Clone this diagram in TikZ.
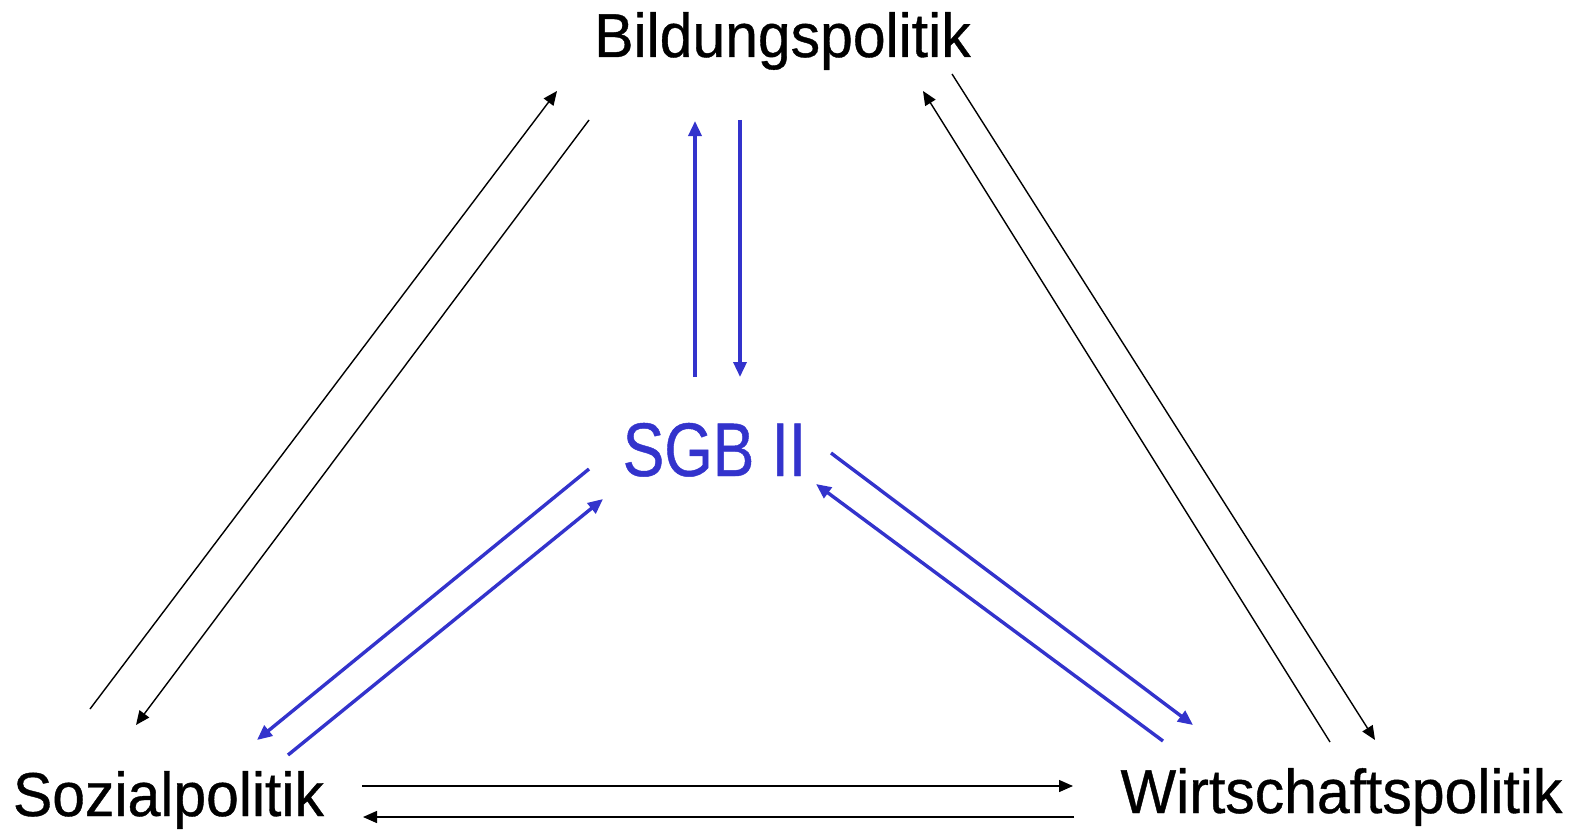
\documentclass[tikz,border=0pt]{standalone}
\usepackage{fontspec}
\setmainfont[FakeStretch=0.95,FakeBold=0.6]{Liberation Sans}
\newfontfamily\sgbfont[FakeStretch=0.82,FakeBold=0.6]{Liberation Sans}
\usetikzlibrary{arrows.meta}
\definecolor{sgbblue}{RGB}{51,51,204}
\begin{document}
\begin{tikzpicture}[x=0.5pt,y=-0.5pt,
  lbl/.style={inner sep=0pt, anchor=base, font=\fontsize{31}{36}\selectfont},
  sgblbl/.style={inner sep=0pt, anchor=base, text=sgbblue, font=\sgbfont\fontsize{38}{44}\selectfont},
  blk/.style={line width=0.7pt, -{Triangle[length=7pt,width=6pt]}},
  blu/.style={draw=sgbblue, line width=1.7pt, -{Triangle[length=7.5pt,width=6.5pt]}}]
\useasboundingbox (0,0) rectangle (1583,829);

\node[lbl] (bild) at (782.5,57) {Bildungspolitik};
\node[lbl] (sozial) at (168.5,816) {Sozialpolitik};
\node[lbl] (wirt) at (1341.5,813) {Wirtschaftspolitik};
\node[sgblbl] (sgb) at (714.5,476) {SGB II};

% endpoints
\coordinate (a1) at (90,709);   \coordinate (a2) at (557,91);
\coordinate (b1) at (589,120);  \coordinate (b2) at (136,725);
\coordinate (c1) at (1330,742); \coordinate (c2) at (923,91);
\coordinate (d1) at (952,74);   \coordinate (d2) at (1375,740);
\coordinate (e1) at (362,786);  \coordinate (e2) at (1073,786);
\coordinate (f1) at (1074,817); \coordinate (f2) at (363,817);
\coordinate (g1) at (695,377);  \coordinate (g2) at (695,121);
\coordinate (h1) at (740,120);  \coordinate (h2) at (740,377);
\coordinate (i1) at (589,469);  \coordinate (i2) at (257,740);
\coordinate (j1) at (288,755);  \coordinate (j2) at (603,499);
\coordinate (k1) at (831,453);  \coordinate (k2) at (1193,725);
\coordinate (l1) at (1163,741); \coordinate (l2) at (816,484);

\draw[blk] (a1) -- (a2);
\draw[blk] (b1) -- (b2);
\draw[blk] (c1) -- (c2);
\draw[blk] (d1) -- (d2);
\draw[blk] (e1) -- (e2);
\draw[blk] (f1) -- (f2);
\draw[blu] (g1) -- (g2);
\draw[blu] (h1) -- (h2);
\draw[blu] (i1) -- (i2);
\draw[blu] (j1) -- (j2);
\draw[blu] (k1) -- (k2);
\draw[blu] (l1) -- (l2);
\end{tikzpicture}
\end{document}
